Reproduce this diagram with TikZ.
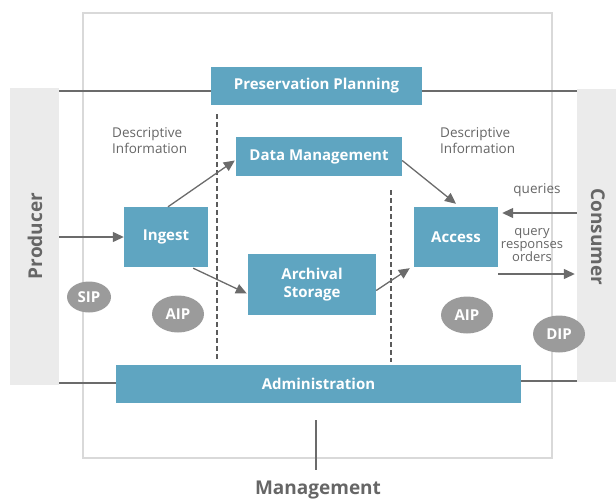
\documentclass[tikz,border=0pt]{standalone}
\usepackage{fontspec}
\setmainfont{Open Sans}
\usetikzlibrary{arrows.meta,shapes.geometric}
\definecolor{teal}{HTML}{5FA5C1}
\definecolor{pale}{HTML}{EBEBEB}
\definecolor{frame}{HTML}{D9D9D9}
\definecolor{ink}{HTML}{666666}
\definecolor{arr}{HTML}{6B6B6B}
\definecolor{blob}{HTML}{9B9B9B}
\tikzset{
  fn/.style={fill=teal, text=white, font=\fontsize{15}{18}\selectfont\bfseries, inner sep=0pt, align=center},
  side/.style={fill=pale, inner sep=0pt},
  pkg/.style={ellipse, fill=blob, text=white, font=\fontsize{15}{18}\selectfont\bfseries, inner sep=0pt, minimum width=52pt, minimum height=37pt},
  lbl/.style={text=ink, font=\fontsize{13.5}{16}\selectfont, align=left, inner sep=0pt},
  big/.style={text=ink, font=\fontsize{19}{22}\selectfont\bfseries},
  flow/.style={draw=arr, line width=1.3pt, -{Triangle[length=11pt,width=10pt]}},
  plain/.style={draw=arr, line width=1.3pt},
  divider/.style={draw=arr!85!black, line width=1.4pt, dash pattern=on 5pt off 3pt},
}
\begin{document}
\begin{tikzpicture}[x=1pt,y=-1pt]
\useasboundingbox (0,0) rectangle (616,501);
% outer frame
\draw[frame, line width=1.2pt] (83,13) rectangle (552,458);
% side panels
\node[side, minimum width=49pt, minimum height=297pt] (prod) at (34.5,236.5) {};
\node[side, minimum width=39pt, minimum height=293pt] (cons) at (596.5,235.5) {};
\node[big, rotate=90] (prodlbl) at (35,236) {Producer};
\node[big, rotate=-90] (conslbl) at (598,237) {Consumer};
% dividers
\coordinate (d1a) at (217,114); \coordinate (d1b) at (217,360);
\coordinate (d2a) at (391,190); \coordinate (d2b) at (391,362);
\draw[divider] (d1a) -- (d1b);
\draw[divider] (d2a) -- (d2b);
% function boxes
\node[fn, minimum width=211pt, minimum height=38pt] (pp) at (316.5,86) {Preservation Planning};
\node[fn, minimum width=166pt, minimum height=39pt] (dm) at (319,156.5) {Data Management};
\node[fn, minimum width=84pt, minimum height=60pt] (ingest) at (166,237) {Ingest};
\node[fn, minimum width=128pt, minimum height=61pt] (arch) at (312,284.5) {Archival\\Storage};
\node[fn, minimum width=84pt, minimum height=60pt] (access) at (456,237) {Access};
\node[fn, minimum width=405pt, minimum height=38pt] (admin) at (318.5,383.5) {Administration};
% lines to side panels
\draw[plain] (prod.east |- 0,91) -- (pp.west |- 0,91);
\draw[plain] (pp.east |- 0,91) -- (cons.west |- 0,91);
\draw[plain] (prod.east |- 0,383) -- (admin.west |- 0,383);
\draw[plain] (admin.east |- 0,381) -- (cons.west |- 0,381);
% labels
\node[lbl, anchor=north west] (di1) at (112,127) {Descriptive\\Information};
\node[lbl, anchor=north west] (di2) at (440,127) {Descriptive\\Information};
\node[lbl] (q) at (537,190) {queries};
\node[lbl, align=center, font=\fontsize{13}{13}\selectfont] (qr) at (532,245) {query\\responses\\orders};
% packages
\node[pkg, minimum width=44pt, minimum height=31pt] (sip) at (89,297) {SIP};
\node[pkg] (aip1) at (178,314) {AIP};
\node[pkg] (aip2) at (467,315) {AIP};
\node[pkg] (dip) at (559,334) {DIP};
% flows
\draw[flow] (prod.east |- ingest.west) -- (ingest.west);
\draw[flow] ([xshift=2pt]ingest.north) -- ([yshift=-4pt,xshift=-1pt]dm.west);
\draw[flow] ([xshift=-15pt,yshift=-1pt]ingest.south east) -- ([xshift=-1pt,yshift=-9pt]arch.west);
\draw[flow] ([yshift=-6pt]arch.east) -- ([xshift=-4pt,yshift=-1pt]access.south west);
\draw[flow] ([yshift=-4pt]dm.east) -- ([yshift=3pt]access.north);
\draw[flow] (cons.west |- 0,213) -- ([xshift=4pt]access.east |- 0,213);
\draw[flow] (access.east |- 0,274) -- ([xshift=-2pt]cons.west |- 0,274);
% management
\coordinate (mtop) at (316,420); \coordinate (mbot) at (316,470);
\draw[plain] (mtop) -- (mbot);
\node[big] (mgmt) at (318,490) {Management};
\end{tikzpicture}
\end{document}
